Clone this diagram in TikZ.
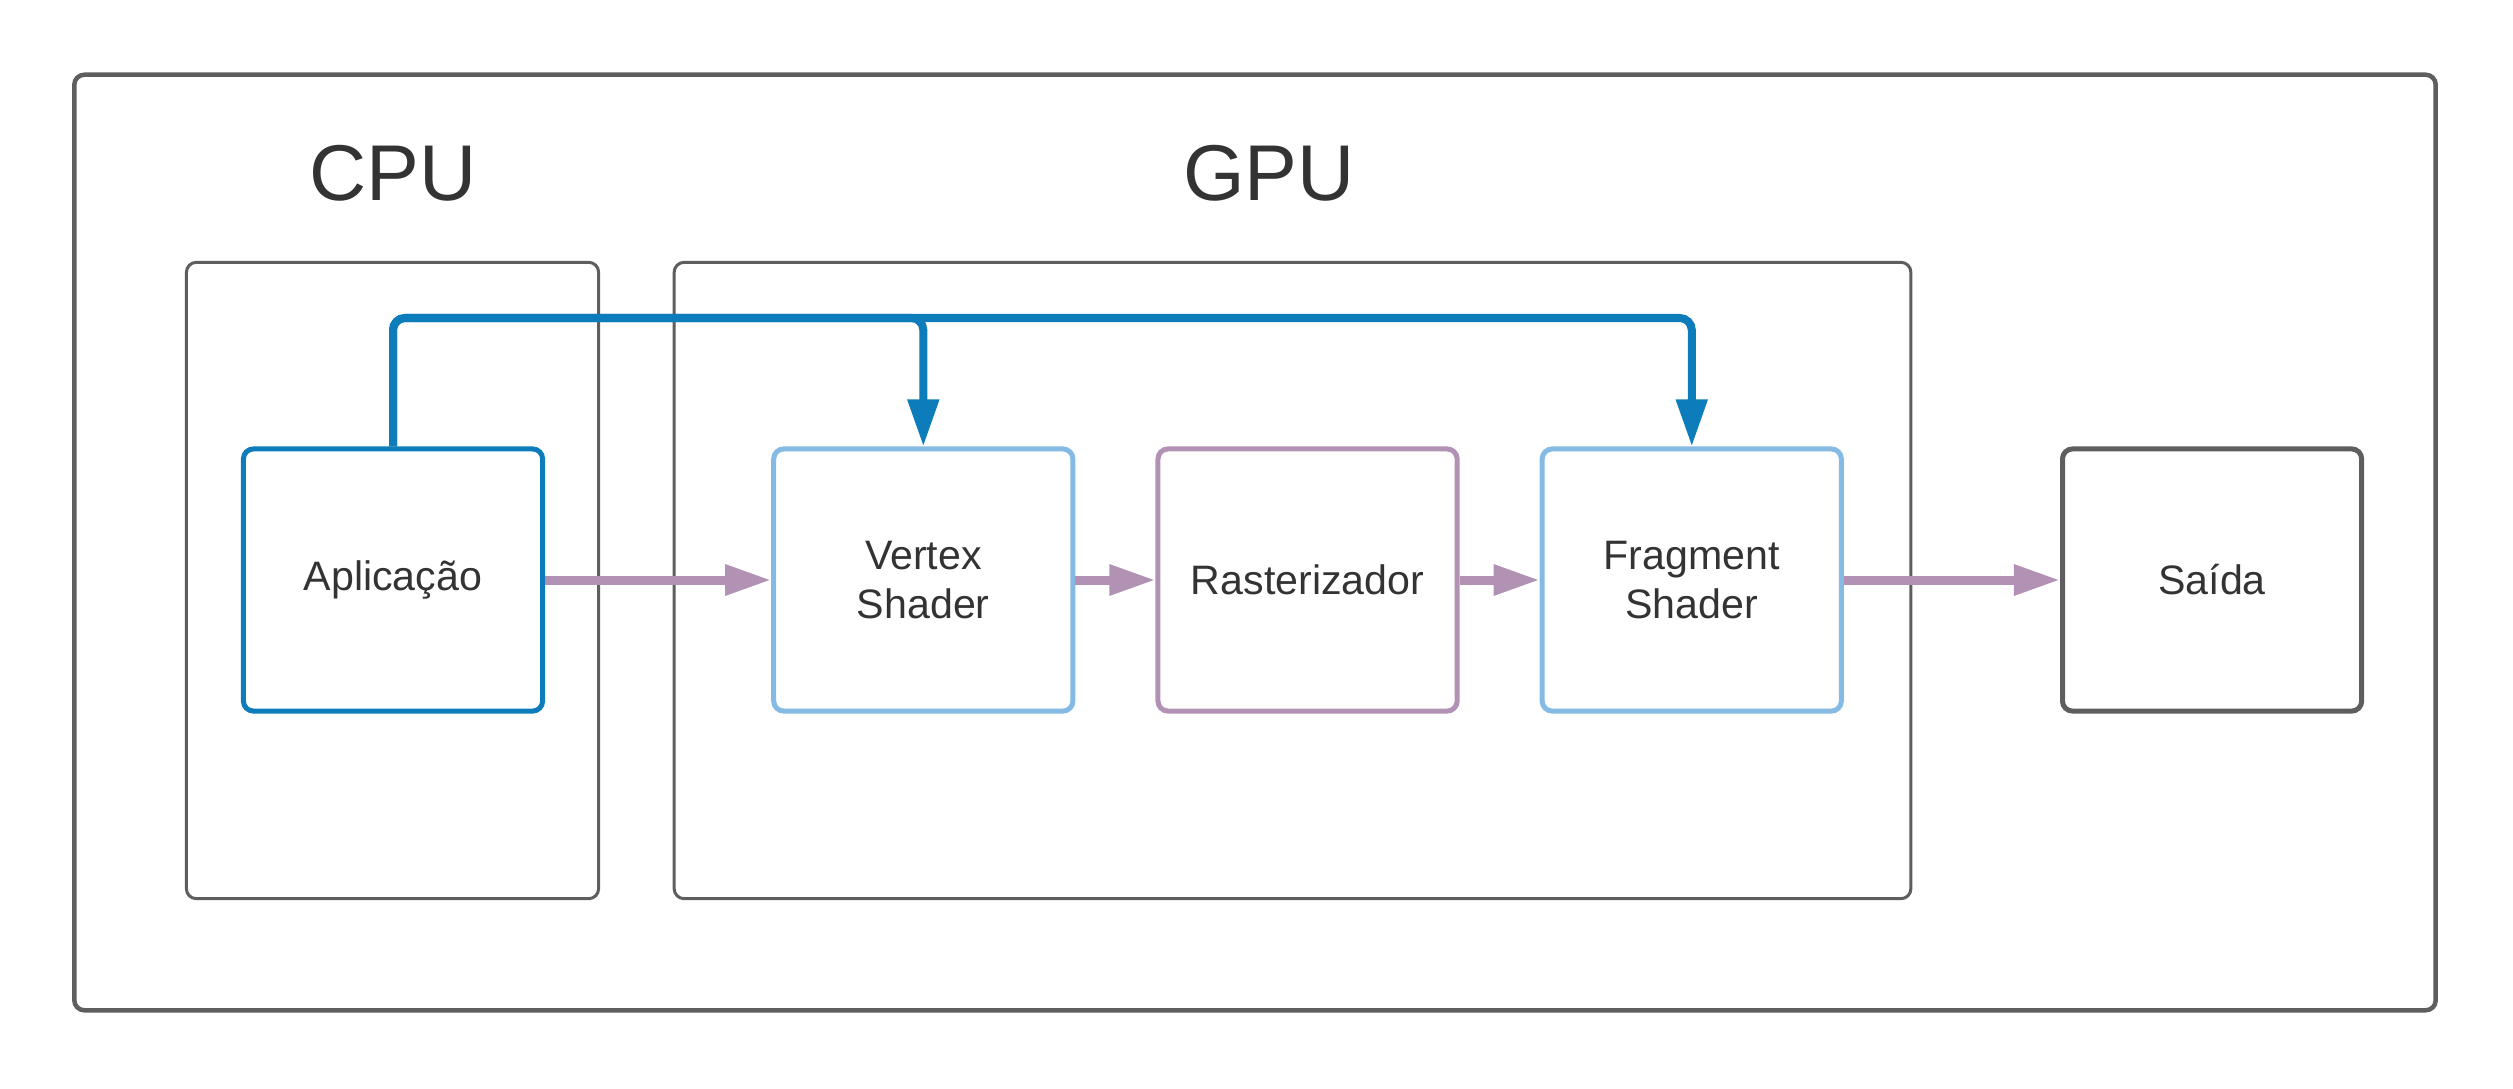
\documentclass[tikz,border=0pt]{standalone}
\usepackage{fontspec}
\setmainfont{Liberation Sans}
\usetikzlibrary{arrows.meta,positioning}
\definecolor{framegray}{HTML}{5E5E5E}
\definecolor{appblue}{HTML}{0C7CBA}
\definecolor{shaderblue}{HTML}{84BAE3}
\definecolor{rastpurple}{HTML}{B292B4}
\definecolor{txtgray}{HTML}{333333}

\begin{document}
\begin{tikzpicture}[x=0.01cm,y=-0.01cm,
  stage/.style={draw,line width=0.05cm,rounded corners=0.1cm,minimum width=2.99cm,
    minimum height=2.62cm,align=center,text=txtgray,font=\fontsize{11.7}{14}\selectfont},
  unit/.style={draw=framegray,line width=0.03cm,rounded corners=0.1cm},
  unitlabel/.style={text=txtgray,font=\fontsize{22.5}{27}\selectfont},
  flow/.style={rastpurple,line width=0.09cm,-{Triangle[length=0.46cm,width=0.29cm]}},
  feed/.style={appblue,line width=0.08cm,rounded corners=0.12cm,-{Triangle[length=0.47cm,width=0.30cm]}}]
  \useasboundingbox (0,0) rectangle (2513,1088);
  \node[unit,line width=0.045cm,minimum width=23.6cm,minimum height=9.35cm] (outer) at (1255,542.5) {};
  \node[unit,minimum width=4.12cm,minimum height=6.36cm] (cpu) at (392.5,580.5) {};
  \node[unit,minimum width=12.36cm,minimum height=6.36cm] (gpu) at (1292.5,580.5) {};
  \node[unitlabel] (cpulbl) at (393,173) {CPU};
  \node[unitlabel] (gpulbl) at (1269,173) {GPU};

  \node[stage,draw=appblue] (apl) at (393,580) {Aplicação};
  \node[stage,draw=shaderblue,right=2.26cm of apl] (vtx) {Vertex\\Shader};
  \node[stage,draw=rastpurple,right=0.80cm of vtx] (ras) {Rasterizador};
  \node[stage,draw=shaderblue,right=0.80cm of ras] (frg) {Fragment\\Shader};
  \node[stage,draw=framegray,right=2.16cm of frg] (out) {Saída};

  \draw[flow] (apl) -- (vtx);
  \draw[flow] (vtx) -- (ras);
  \draw[flow] (ras) -- (frg);
  \draw[flow] (frg) -- (out);

  \coordinate (bus) at (0,318);
  \draw[feed] (apl.north) -- (apl.north |- bus) -| (vtx.north);
  \draw[feed] (apl.north) -- (apl.north |- bus) -| (frg.north);
\end{tikzpicture}
\end{document}
